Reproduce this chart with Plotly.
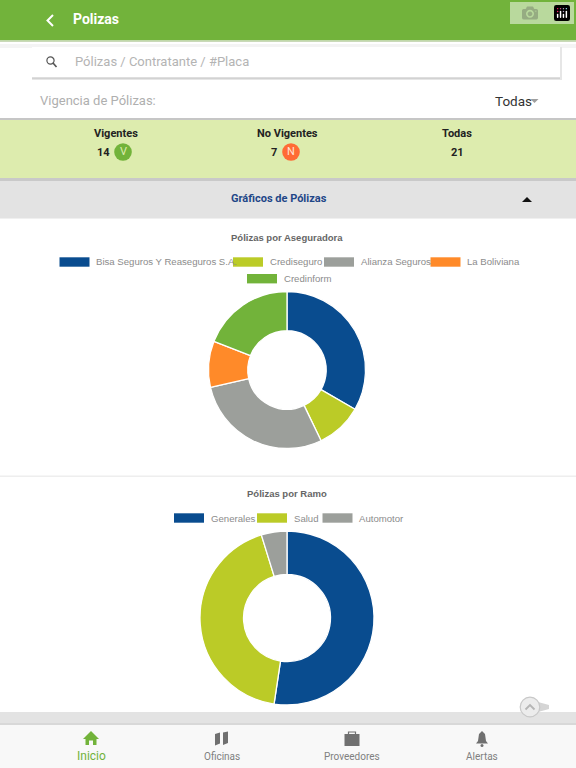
"""
Polizas screen: two donut charts inside the app layout
"""
import plotly.graph_objects as go

W = 576
H = 768

# Chart data
aseguradoras = ['Bisa Seguros Y Reaseguros S.A.', 'Crediseguro', 'Alianza Seguros', 'La Boliviana', 'Credinform']
aseguradora_polizas = [7, 2, 6, 2, 4]
ramos = ['Generales', 'Salud', 'Automotor']
ramo_polizas = [11, 9, 1]
resumen_labels = ['Vigentes', 'No Vigentes', 'Todas']
resumen_values = [14, 7, 21]

COLORS = ['#094C8F', '#BBCB27', '#9C9F9B', '#FF8A29', '#72B33A']
UI_FONT = 'Roboto, sans-serif'
CHART_FONT = 'Liberation Sans, Arial, sans-serif'


def px(x):
    return x / W


def py(y):
    return 1 - y / H


def rect(x0, y0, x1, y1, color):
    return dict(type='rect', xref='paper', yref='paper', x0=px(x0), x1=px(x1), y0=py(y0), y1=py(y1),
                fillcolor=color, line_width=0, layer='below')


def circle(cx, cy, r, color, line=None):
    return dict(type='circle', xref='paper', yref='paper', x0=px(cx - r), x1=px(cx + r), y0=py(cy - r), y1=py(cy + r),
                fillcolor=color, line=dict(color=line or color, width=1.2 if line else 0), layer='above')


def poly(points, color, width=0, fill=True):
    # paper-ref polygon/polyline from pixel points
    parts = [f'{"M" if i == 0 else "L"}{px(x):.5f},{py(y):.5f}' for i, (x, y) in enumerate(points)]
    path = ' '.join(parts) + (' Z' if fill else '')
    return dict(type='path', xref='paper', yref='paper', path=path,
                fillcolor=color if fill else 'rgba(0,0,0,0)',
                line=dict(color=color, width=width), layer='above')


def label(text, x, y, size, color, font=UI_FONT, anchor='left', bold=False):
    return dict(text=f'<b>{text}</b>' if bold else text, xref='paper', yref='paper', x=px(x), y=py(y),
                xanchor=anchor, yanchor='middle', showarrow=False,
                font=dict(family=font, size=size, color=color))


shapes = [
    # header and search box
    rect(0, 44, W, 48, '#F4F4F4'),
    rect(0, 0, W, 40.5, '#72B33B'),
    rect(0, 40.5, W, 42, '#C9D9B8'),
    rect(32, 47, 562, 80, '#E6E6E6'),
    rect(32, 47, 560, 78, '#FFFFFF'),
    rect(32, 77.5, 560, 78.5, '#BDBDBD'),
    # summary band
    rect(0, 118, W, 120, '#C6C6C6'),
    rect(0, 120, W, 178, '#DDECAE'),
    rect(0, 178, W, 181, '#C9C9C9'),
    rect(0, 181, W, 218, '#E3E3E3'),
    rect(0, 218, W, 219, '#F0F0F0'),
    # dividers and bottom nav
    rect(0, 475.5, W, 477, '#EEEEEE'),
    rect(0, 712, W, 723, '#E3E3E3'),
    rect(0, 723, W, 725, '#D8D8D8'),
    rect(0, 725, W, H, '#F8F8F8'),
    # summary badges
    circle(123, 152, 8.8, '#72B33A'),
    circle(291, 152, 8.8, '#FF6B35'),
    # back chevron, dropdown caret, collapse arrow
    poly([(53, 15), (47.5, 20.5), (53, 26)], '#FFFFFF', width=2, fill=False),
    poly([(530.5, 99), (538.5, 99), (534.5, 103)], '#9E9E9E'),
    poly([(522, 202), (532, 202), (527, 197)], '#111111'),
    # search icon
    circle(50.5, 60.5, 3.6, 'rgba(0,0,0,0)', line='#555555'),
    poly([(53, 63), (56.5, 67)], '#555555', width=1.6, fill=False),
    # home icon
    poly([(91, 731), (99, 739), (96.5, 739), (96.5, 745), (93, 745), (93, 740.5), (89, 740.5),
          (89, 745), (85.5, 745), (85.5, 739), (83, 739)], '#72B33A'),
    # map icon
    poly([(215, 734), (220, 732.5), (220, 743.5), (215, 745.5)], '#707070'),
    poly([(223, 732.5), (228, 731.5), (228, 743), (223, 745)], '#707070'),
    # briefcase icon
    dict(rect(344.5, 734, 359.5, 746, '#707070'), layer='above'),
    poly([(348.5, 734), (348.5, 732), (355.5, 732), (355.5, 734)], '#707070', width=1.2, fill=False),
    # bell icon
    poly([(482, 731), (485, 734), (486, 741), (488, 743.5), (476, 743.5), (478, 741), (479, 734)], '#707070'),
    circle(482, 745.5, 1.5, '#707070'),
    # scroll-to-top button
    poly([(538, 702), (549, 705), (549, 709), (538, 712)], '#D5D5D5'),
    circle(530, 707, 9.8, '#ECECEC', line='#C8C8C8'),
    poly([(525.5, 709.5), (530, 705), (534.5, 709.5)], '#B5B5B5', width=1.8, fill=False),
]

annotations = [
    label('Polizas', 71, 19, 14, '#FFFFFF', bold=True),
    label('Pólizas / Contratante / #Placa', 73, 61.5, 13, '#B4B4B4'),
    label('Vigencia de Pólizas:', 38, 101, 13, '#AFAFAF'),
    label('Todas', 493, 101, 13.5, '#333333'),
    label(f'{resumen_values[0]}', 112, 152.5, 11, '#222222', anchor='right', bold=True),
    label(f'{resumen_values[1]}', 279, 152.5, 11, '#222222', anchor='right', bold=True),
    label(f'{resumen_values[2]}', 457, 152.5, 11, '#222222', anchor='middle' if False else 'center', bold=True),
    label('V', 123, 151, 11, '#DDECAE', anchor='center'),
    label('N', 291, 151, 11, '#FFE3D6', anchor='center'),
    label('Gráficos de Pólizas', 279, 199, 11, '#1F4788', anchor='center', bold=True),
    label('Pólizas por Aseguradora', 287, 237.5, 9.5, '#666666', font=CHART_FONT, anchor='center', bold=True),
    label('Pólizas por Ramo', 287, 493.5, 9.5, '#666666', font=CHART_FONT, anchor='center', bold=True),
    label('Inicio', 91, 756, 12, '#72B33A', anchor='center'),
    label('Oficinas', 221.5, 756.5, 10, '#808080', anchor='center'),
    label('Proveedores', 352, 756.5, 10, '#808080', anchor='center'),
    label('Alertas', 482, 756.5, 10, '#808080', anchor='center'),
]

# summary headers
for name, cx in zip(resumen_labels, [116, 287, 457]):
    annotations.append(label(name, cx, 133, 11, '#222222', anchor='center', bold=True))

# hand-placed legends so the two donuts each keep their own row layout
legend_items = [
    (aseguradoras[0], COLORS[0], 59.5, 262),
    (aseguradoras[1], COLORS[1], 233, 262),
    (aseguradoras[2], COLORS[2], 324, 262),
    (aseguradoras[3], COLORS[3], 430.5, 262),
    (aseguradoras[4], COLORS[4], 247, 278.7),
    (ramos[0], COLORS[0], 174, 518),
    (ramos[1], COLORS[1], 257, 518),
    (ramos[2], COLORS[2], 322.5, 518),
]
for name, color, x, y in legend_items:
    shapes.append(rect(x, y - 4.7, x + 30, y + 4.7, color))
    annotations.append(label(name, x + 34.5, y, 9.6, '#8C8C8C', font=CHART_FONT))

fig = go.Figure()

# Pólizas por Aseguradora
fig.add_trace(go.Pie(
    labels=aseguradoras,
    values=aseguradora_polizas,
    hole=0.5,
    sort=False,
    direction='clockwise',
    rotation=0,
    textinfo='none',
    showlegend=False,
    marker=dict(colors=COLORS[:5], line=dict(color='#FFFFFF', width=1.3)),
    domain=dict(x=[px(287 - 78.5), px(287 + 78.5)], y=[py(448.5), py(291.5)])
))

# Pólizas por Ramo
fig.add_trace(go.Pie(
    labels=ramos,
    values=ramo_polizas,
    hole=0.5,
    sort=False,
    direction='clockwise',
    rotation=0,
    textinfo='none',
    showlegend=False,
    marker=dict(colors=COLORS[:3], line=dict(color='#FFFFFF', width=1.3)),
    domain=dict(x=[px(287 - 87), px(287 + 87)], y=[py(705), py(531)])
))

fig.update_layout(
    width=W,
    height=H,
    margin=dict(l=0, r=0, t=0, b=0),
    paper_bgcolor='white',
    plot_bgcolor='white',
    shapes=shapes,
    annotations=annotations,
    showlegend=False
)

fig.write_html('out.html', post_script="document.body.style.margin='0';")
